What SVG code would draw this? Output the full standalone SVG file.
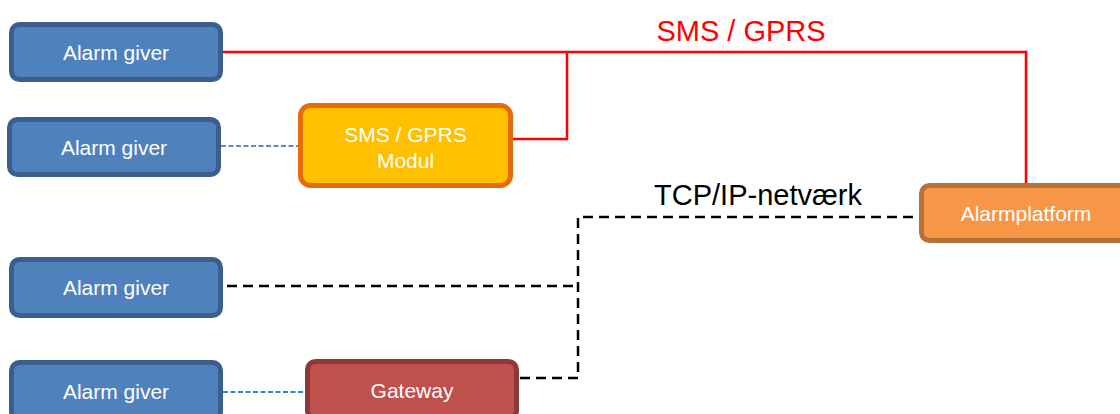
<svg xmlns="http://www.w3.org/2000/svg" width="1120" height="414" viewBox="0 0 1120 414">
  <style>
    .box { stroke-width: 5; }
    .giver { fill: #4F81BD; stroke: #3A5F8C; }
    .modul { fill: #FFC000; stroke: #E46C0A; }
    .platform { fill: #F79646; stroke: #B6713A; }
    .gateway { fill: #C0504D; stroke: #8C3836; }
    .lbl { font-family: "Liberation Sans", Arial, sans-serif; font-size: 21px; fill: #FFFFFF; text-anchor: middle; }
    .net { font-family: "Liberation Sans", Arial, sans-serif; font-size: 29px; text-anchor: middle; }
    .sms { stroke: #FF0000; stroke-width: 2.5; fill: none; }
    .tcp { stroke: #000000; stroke-width: 2.5; fill: none; stroke-dasharray: 10 6; }
    .local { stroke-width: 2; fill: none; stroke-dasharray: 5 2.5; }
  </style>
  <rect width="1120" height="414" fill="#FFFFFF"/>

  <!-- links between the units -->
  <g id="connectors">
    <path class="sms" d="M223,52 H1026 V183"/>
    <path class="sms" d="M513,139 H567 V52"/>
    <path class="tcp" d="M227,286 H578"/>
    <path class="tcp" d="M520,378 H578 V217 H919"/>
    <path class="local" stroke="#5B8ACB" d="M221,146 H298"/>
    <path class="local" stroke="#2E86D0" d="M223,392 H305"/>
  </g>

  <!-- network labels -->
  <text class="net" x="741" y="41" fill="#FF0000">SMS / GPRS</text>
  <text class="net" x="758" y="205" fill="#000000">TCP/IP-netværk</text>

  <g id="alarm-giver-1">
    <rect class="box giver" x="11.5" y="24.5" width="209" height="55" rx="8"/>
    <text class="lbl" x="116" y="59.5">Alarm giver</text>
  </g>
  <g id="alarm-giver-2">
    <rect class="box giver" x="9.5" y="119.5" width="209" height="55" rx="8"/>
    <text class="lbl" x="114" y="154.5">Alarm giver</text>
  </g>
  <g id="alarm-giver-3">
    <rect class="box giver" x="11.5" y="259.5" width="209" height="56" rx="8"/>
    <text class="lbl" x="116" y="295">Alarm giver</text>
  </g>
  <g id="alarm-giver-4">
    <rect class="box giver" x="11.5" y="362.5" width="209" height="57" rx="8"/>
    <text class="lbl" x="116" y="398.5">Alarm giver</text>
  </g>
  <g id="sms-gprs-modul">
    <rect class="box modul" x="300.5" y="105.5" width="210" height="80" rx="10"/>
    <text class="lbl" x="405.5" y="141.5">SMS / GPRS</text>
    <text class="lbl" x="405.5" y="167.5">Modul</text>
  </g>
  <g id="alarmplatform">
    <rect class="box platform" x="921.5" y="185.5" width="209" height="55" rx="8"/>
    <text class="lbl" x="1026" y="220.5">Alarmplatform</text>
  </g>
  <g id="gateway">
    <rect class="box gateway" x="307.5" y="361.5" width="209" height="57" rx="8"/>
    <text class="lbl" x="412" y="398">Gateway</text>
  </g>
</svg>
